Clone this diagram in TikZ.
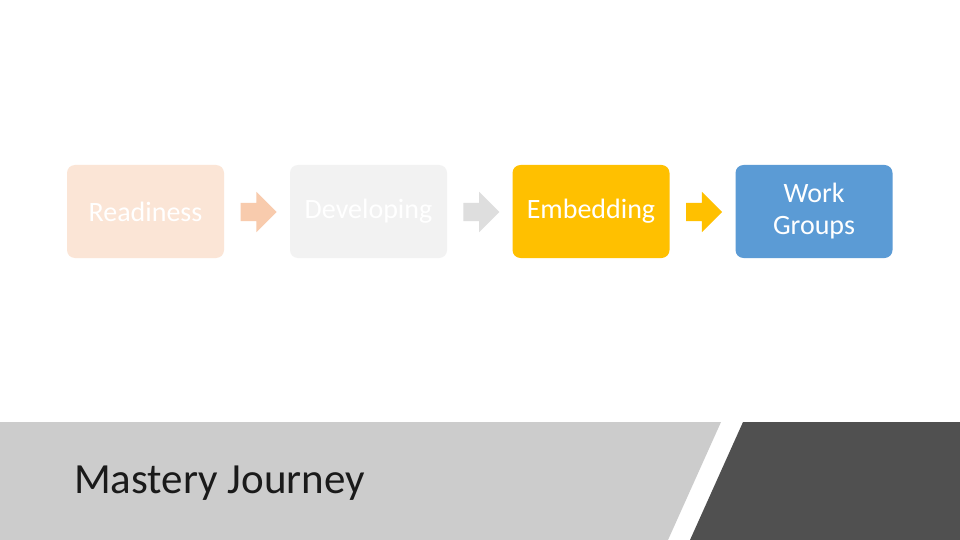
\documentclass[tikz,border=0pt]{standalone}
\usepackage{fontspec}
\setmainfont{Carlito}
\usetikzlibrary{shapes.arrows,calc}
\definecolor{peach}{HTML}{FBE5D6}
\definecolor{peachar}{HTML}{F8CBAD}
\definecolor{lgray}{HTML}{F2F2F2}
\definecolor{lgrayar}{HTML}{DEDEDE}
\definecolor{gold}{HTML}{FFC000}
\definecolor{blueb}{HTML}{5B9BD5}
\definecolor{bandlight}{HTML}{CCCCCC}
\definecolor{banddark}{HTML}{505050}
\definecolor{titlec}{HTML}{1A1A1A}
\tikzset{
  stagebox/.style={rounded corners=8pt, minimum width=157pt, minimum height=93pt,
    text=white, font=\fontsize{28}{32}\selectfont, align=center, inner sep=0pt},
  flowarrow/.style={single arrow, minimum height=36pt, inner ysep=9pt, inner xsep=0pt,
    single arrow head extend=11pt, draw=none, text width=0pt}
}
\begin{document}
\begin{tikzpicture}[x=1pt,y=-1pt]
\useasboundingbox (0,0) rectangle (960,540);
\fill[white] (0,0) rectangle (960,540);
% bottom band
\fill[bandlight] (0,422) -- (721,422) -- (668,540) -- (0,540) -- cycle;
\fill[banddark] (743,422) -- (960,422) -- (960,540) -- (690,540) -- cycle;
\node[anchor=base west, font=\fontsize{43}{50}\selectfont, text=titlec, inner sep=0pt] (title) at (74,493) {Mastery Journey};
% stages
\node[stagebox, fill=peach] (r) at (145.5,211.5) {Readiness};
\node[stagebox, fill=lgray] (d) at (368.5,211.5) {Developing};
\node[stagebox, fill=gold] (e) at (591,211.5) {Embedding};
\node[stagebox, fill=blueb] (w) at (814,211.5) {Work\\Groups};
% arrows
\node[flowarrow, fill=peachar] (a1) at ($(r.east)!0.5!(d.west)+(-3,0.5)$) {};
\node[flowarrow, fill=lgrayar] (a2) at ($(d.east)!0.5!(e.west)+(-3,0.5)$) {};
\node[flowarrow, fill=gold] (a3) at ($(e.east)!0.5!(w.west)+(-3,0.5)$) {};
\end{tikzpicture}
\end{document}
